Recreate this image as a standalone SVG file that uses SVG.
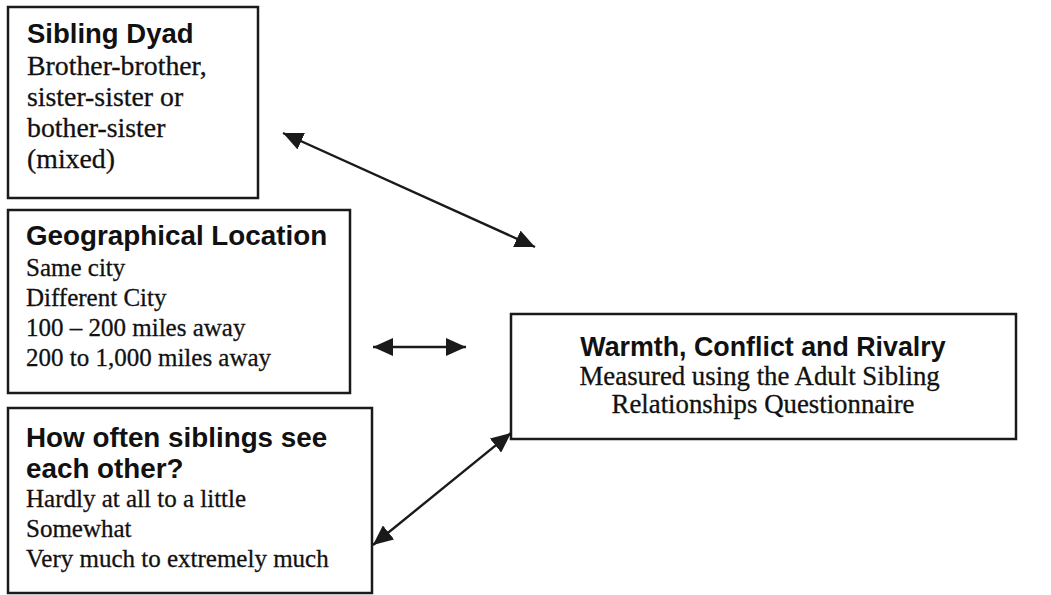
<svg xmlns="http://www.w3.org/2000/svg" width="1051" height="595" viewBox="0 0 1051 595">
  <style>
    .box { fill: #ffffff; stroke: #1a1a1a; stroke-width: 2.5; }
    .title { font-family: "Liberation Sans", Arial, sans-serif; font-weight: bold; fill: #111111; }
    .body { font-family: "Liberation Serif", "Times New Roman", serif; fill: #111111; stroke: #111111; stroke-width: 0.3; }
    .link { stroke: #1a1a1a; stroke-width: 2.4; fill: none; marker-start: url(#head); marker-end: url(#head); }
  </style>
  <defs>
    <marker id="head" viewBox="0 0 20 18" refX="20" refY="9" markerWidth="20" markerHeight="18" markerUnits="userSpaceOnUse" orient="auto-start-reverse">
      <path d="M0,0 L20,9 L0,18 Z" fill="#1a1a1a"/>
    </marker>
  </defs>
  <rect width="1051" height="595" fill="#ffffff"/>

  <g id="sibling-dyad">
    <rect class="box" x="8" y="7" width="250" height="191"/>
    <text class="title" x="27" y="43" font-size="27.5">Sibling Dyad</text>
    <text class="body" font-size="27.8">
      <tspan x="27" y="75">Brother-brother,</tspan>
      <tspan x="27" y="106">sister-sister or</tspan>
      <tspan x="27" y="137">bother-sister</tspan>
      <tspan x="27" y="168">(mixed)</tspan>
    </text>
  </g>

  <g id="geographical-location">
    <rect class="box" x="8" y="210" width="342" height="183"/>
    <text class="title" x="26" y="245" font-size="27.8">Geographical Location</text>
    <text class="body" font-size="25">
      <tspan x="26" y="276">Same city</tspan>
      <tspan x="26" y="306">Different City</tspan>
      <tspan x="26" y="336">100 – 200 miles away</tspan>
      <tspan x="26" y="366">200 to 1,000 miles away</tspan>
    </text>
  </g>

  <g id="how-often">
    <rect class="box" x="8" y="408" width="364" height="185"/>
    <text class="title" font-size="27.8">
      <tspan x="26" y="447">How often siblings see</tspan>
      <tspan x="26" y="478">each other?</tspan>
    </text>
    <text class="body" font-size="25">
      <tspan x="26" y="507">Hardly at all to a little</tspan>
      <tspan x="26" y="537">Somewhat</tspan>
      <tspan x="26" y="567">Very much to extremely much</tspan>
    </text>
  </g>

  <g id="warmth-conflict-rivalry">
    <rect class="box" x="511" y="314" width="505" height="125"/>
    <text class="title" x="763" y="356" font-size="26.8" text-anchor="middle">Warmth, Conflict and Rivalry</text>
    <text class="body" font-size="26.8" text-anchor="middle">
      <tspan x="763" y="385">Measured using the Adult Sibling</tspan>
      <tspan x="763" y="413">Relationships Questionnaire</tspan>
    </text>
  </g>

  <g id="connectors">
    <line class="link" x1="283" y1="133" x2="535" y2="247"/>
    <line class="link" x1="373" y1="347" x2="466" y2="347"/>
    <line class="link" x1="373" y1="545" x2="511" y2="433"/>
  </g>
</svg>
